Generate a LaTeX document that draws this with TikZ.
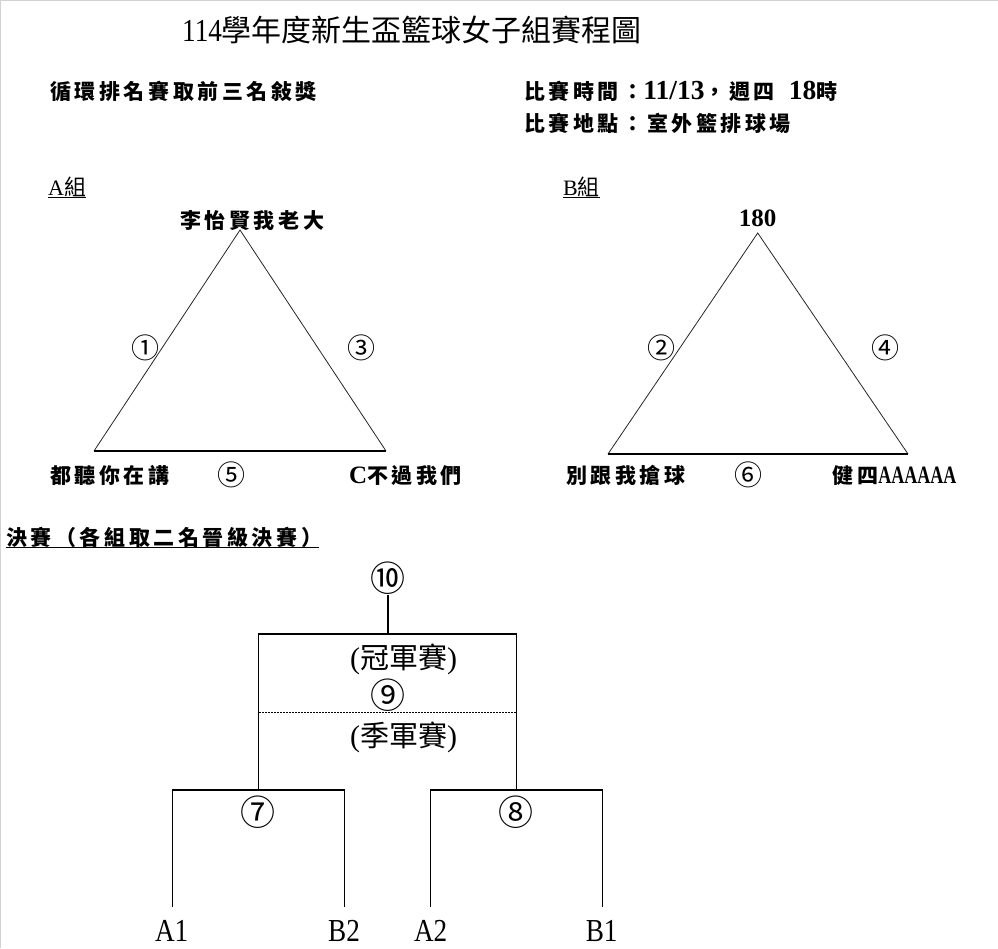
\documentclass[tikz,border=0pt]{standalone}
\usepackage{graphicx}
\usepackage{fontspec}
\setmainfont{Liberation Serif}
\newfontfamily\latc{Liberation Serif}[FakeStretch=0.85]
\newfontfamily\cjk{Noto Sans CJK TC}
\newfontfamily\cjks{Noto Sans CJK TC}[LetterSpace=17]
\newcommand\zh[1]{{\cjks\fontsize{21}{21}\selectfont #1}}
\begin{document}
\begin{tikzpicture}[x=1pt,y=-1pt,
  lbl/.style={anchor=base west,inner sep=0pt,font=\fontsize{25}{25}\selectfont\bfseries},
  grp/.style={anchor=base west,inner sep=0pt,font=\fontsize{22}{22}\selectfont},
  circ/.style={inner sep=0pt,font=\cjk\fontsize{28}{28}\selectfont},
  bigcirc/.style={inner sep=0pt,font=\cjk\fontsize{35}{35}\selectfont},
  seed/.style={anchor=base,inner sep=0pt,font=\latc\fontsize{32}{32}\selectfont},
  match/.style={anchor=base west,inner sep=0pt,font=\fontsize{30}{30}\selectfont},
  side/.style={line width=0.8pt,black!85},
  baseline/.style={line width=1.6pt,black},
  br/.style={line width=1.2pt,black},
  uline/.style={line width=1.2pt,black}]
\useasboundingbox (0,0) rectangle (998,948);
\fill[white] (0,0) rectangle (998,948);
\draw[gray!35,line width=2.5pt] (0,948) -- (0,0) -- (998,0);

% title
\node[anchor=base west,inner sep=0pt] (title) at (182,41)
  {\latc\fontsize{32}{32}\selectfont 114{\cjk\fontsize{30}{30}\selectfont 學年度新生盃籃球女子組賽程圖}};

% header info
\node[lbl] (rule) at (50,99.7) {\zh{循環排名賽取前三名敍獎}};
\node[lbl] (time) at (524,99.7) {\zh{比賽時間：}{\fontsize{27.5}{27.5}\selectfont 11/13}\zh{，週四}\hspace{14pt}{\fontsize{27.5}{27.5}\selectfont 18}\zh{時}};
\node[lbl] (place) at (524,131.3) {\zh{比賽地點：室外籃排球場}};

% group labels
\node[grp] (ga) at (48,195) {A{\cjk 組}};
\draw[uline] ([yshift=-2.3pt]ga.base west) -- ([yshift=-2.3pt]ga.base east);
\node[grp] (gb) at (563,195) {B{\cjk 組}};
\draw[uline] ([yshift=-2.3pt]gb.base west) -- ([yshift=-2.3pt]gb.base east);

% triangle A
\coordinate (ta) at (240,230);
\coordinate (tl) at (94,451);
\coordinate (tr) at (386,451);
\draw[side] (tl) -- (ta) -- (tr);
\draw[baseline] (tl) -- (tr);
\node[lbl] (a1) at (180,228) {\zh{李怡賢我老大}};
\node[circ] (m1) at (145.5,347.7) {①};
\node[circ] (m3) at (361,347.7) {③};
\node[lbl] (a2) at (50,483) {\zh{都聽你在講}};
\node[circ] (m5) at (231.5,475) {⑤};
\node[lbl] (a3) at (349,483) {C\zh{不過我們}};

% triangle B
\coordinate (tb) at (757.7,233);
\coordinate (ul) at (608,454);
\coordinate (ur) at (908,454);
\draw[side] (ul) -- (tb) -- (ur);
\draw[baseline] (ul) -- (ur);
\node[lbl,anchor=base] (b1) at (757.5,226.7) {180};
\node[circ] (m2) at (661.7,347.7) {②};
\node[circ] (m4) at (885.5,348) {④};
\node[lbl] (b2) at (566,483) {\zh{別跟我搶球}};
\node[circ] (m6) at (748.5,475) {⑥};
\node[lbl] (b3) at (832.7,483) {\zh{健四}\scalebox{0.72}[1]{AAAAAA}};

% finals heading
\node[lbl] (fin) at (6,545.5) {\zh{決賽（各組取二名晉級決賽）}};
\draw[uline] ([yshift=-2.3pt]fin.base west) -- ([yshift=-2.3pt,xshift=-3pt]fin.base east);

% bracket
\node[bigcirc] (m10) at (388,578) {⑩};
\coordinate (c10) at (388,595);
\coordinate (k) at (388,634);
\coordinate (bl) at (258.3,634);
\coordinate (bR) at (516.3,634);
\coordinate (l7) at (258.3,790);
\coordinate (r8) at (516.3,790);
\draw[br] (c10) -- (k);
\draw[br] (l7) -- (bl) -- (bR) -- (r8);
\coordinate (dl) at (259,712.3);
\coordinate (dr) at (516,712.3);
\draw[line width=0.8pt,dash pattern=on 1.6pt off 1.4pt] (dl) -- (dr);
\node[match] (champ) at (350,668) {({\cjk\fontsize{29}{29}\selectfont 冠軍賽})};
\node[bigcirc] (m9) at (388,695) {⑨};
\node[match] (third) at (350,746) {({\cjk\fontsize{29}{29}\selectfont 季軍賽})};

\coordinate (a1t) at (172.3,907);
\coordinate (a1c) at (172.3,790);
\coordinate (b2c) at (344.3,790);
\coordinate (b2t) at (344.3,907);
\draw[br] (a1t) -- (a1c) -- (b2c) -- (b2t);
\coordinate (a2t) at (430.3,907);
\coordinate (a2c) at (430.3,790);
\coordinate (b1c) at (602.3,790);
\coordinate (b1t) at (602.3,907);
\draw[br] (a2t) -- (a2c) -- (b1c) -- (b1t);
\node[bigcirc] (m7) at (258.3,812.5) {⑦};
\node[bigcirc] (m8) at (516.3,812.5) {⑧};

\node[seed] (sA1) at (171.7,941) {A1};
\node[seed] (sB2) at (344,941) {B2};
\node[seed] (sA2) at (430.7,941) {A2};
\node[seed] (sB1) at (601.7,941) {B1};
\end{tikzpicture}
\end{document}
